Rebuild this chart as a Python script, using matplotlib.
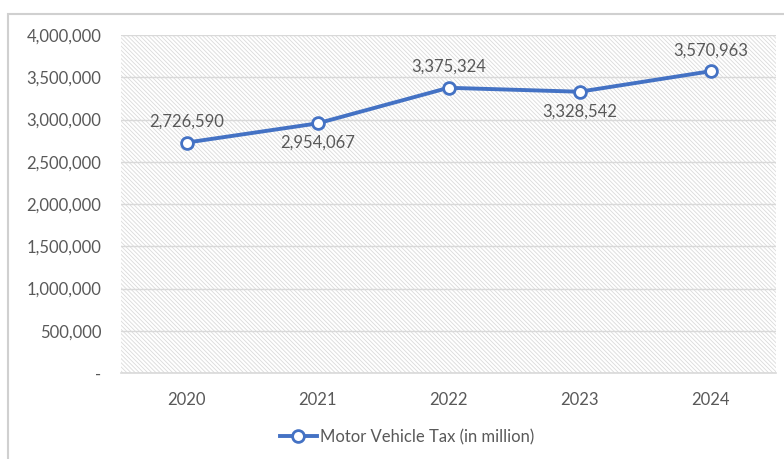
import matplotlib
matplotlib.use("Agg")
import matplotlib.pyplot as plt
from matplotlib.patches import Rectangle
from matplotlib.ticker import FuncFormatter

years = ["2020", "2021", "2022", "2023", "2024"]
tax = [2726590, 2954067, 3375324, 3328542, 3570963]
label_pos = ["above", "below", "above", "below", "above"]
series_name = "Motor Vehicle Tax (in million)"

plt.rcParams["font.family"] = ["Lato", "DejaVu Sans"]
plt.rcParams["hatch.linewidth"] = 0.6
text_color = "#595959"
line_color = "#4472C4"
fs = 12

fig = plt.figure(figsize=(7.84, 4.59), dpi=100)
W, H = 784, 459

# outer chart border (extends past the right/bottom edges)
fig.patches.append(Rectangle((8 / W, -0.05), 1.0, 1 - 13.5 / H + 0.05,
                             transform=fig.transFigure, fill=False,
                             edgecolor="#d0d0d0", linewidth=1.5))

ax = fig.add_axes([121 / W, 1 - 373 / H, 655 / W, 338 / H])
x = list(range(len(years)))
ax.set_xlim(-0.5, len(years) - 0.5)
ax.set_ylim(0, 4000000)

# hatched plot area
ax.add_patch(Rectangle((0, 0), 1, 1, transform=ax.transAxes, facecolor="white",
                       edgecolor="#dadada", hatch="\\" * 8, linewidth=0, zorder=0))

ax.set_yticks(range(0, 4000001, 500000))
ax.yaxis.set_major_formatter(FuncFormatter(lambda v, p: "-" if v == 0 else f"{int(v):,}"))
ax.grid(axis="y", color="#d9d9d9", linewidth=1, zorder=1)
ax.set_axisbelow(True)
for s in ["top", "right", "left"]:
    ax.spines[s].set_visible(False)
ax.spines["bottom"].set_color("#d9d9d9")
ax.spines["bottom"].set_linewidth(1.2)
ax.tick_params(length=0, colors=text_color, labelsize=fs)
ax.tick_params(axis="y", pad=14)
ax.tick_params(axis="x", pad=14)
ax.set_xticks(x)
ax.set_xticklabels(years)

line, = ax.plot(x, tax, color=line_color, linewidth=2.8, marker="o",
                markersize=8.5, markerfacecolor="white", markeredgewidth=2,
                markeredgecolor=line_color, zorder=3, label=series_name)

for xi, v, pos in zip(x, tax, label_pos):
    dy = 15 if pos == "above" else -14
    ax.annotate(f"{v:,}", (xi, v), xytext=(0, dy), textcoords="offset points",
                ha="center", va="center", color=text_color, fontsize=fs)

fig.legend(handles=[line], loc="center", bbox_to_anchor=(407 / W, 1 - 437 / H),
           frameon=False, fontsize=fs, labelcolor=text_color,
           handlelength=2.2, handletextpad=0.2)

fig.savefig("out.png", dpi=100)
